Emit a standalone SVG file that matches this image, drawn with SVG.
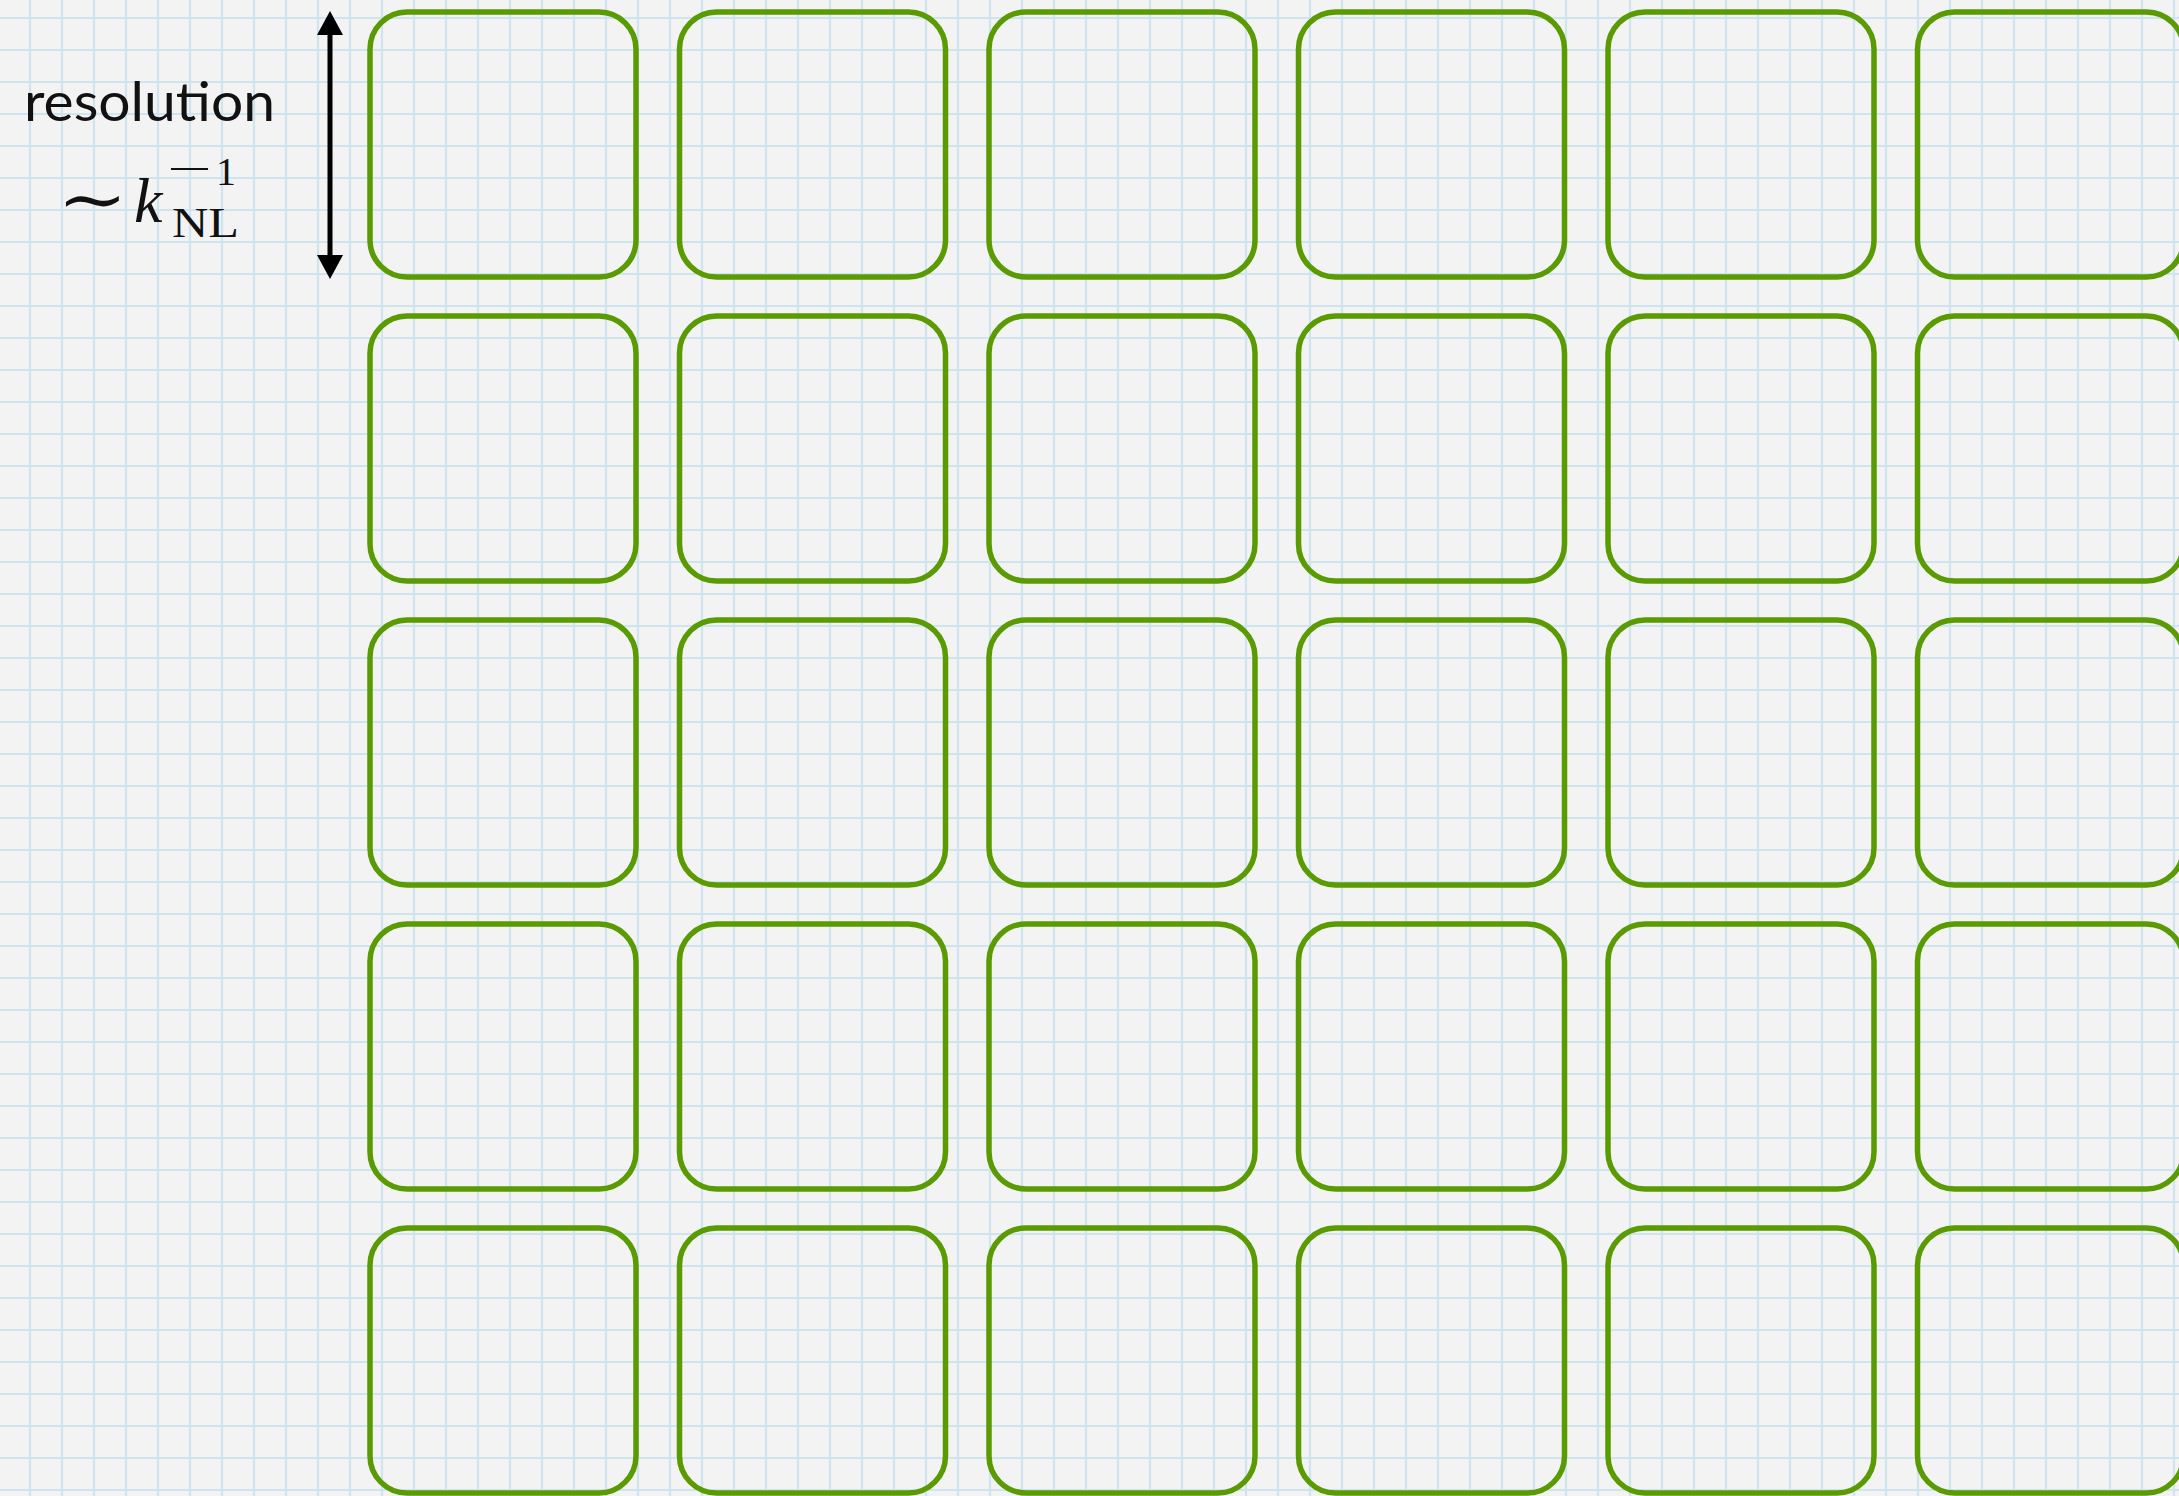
<svg xmlns="http://www.w3.org/2000/svg" width="2179" height="1496" viewBox="0 0 2179 1496">
<style>
.box{fill:none;stroke:#5a9a02;stroke-width:5.5}
.lbl{font-family:Lato,"Open Sans",sans-serif;font-size:55px;fill:#111}
.math{font-family:"Liberation Serif","DejaVu Serif",serif;fill:#111}
.dim{stroke:#000;stroke-width:5;fill:none}
</style>
<defs>
<pattern id="grid" patternUnits="userSpaceOnUse" x="14" y="2" width="32" height="32">
<rect width="32" height="32" fill="#f3f3f3"/>
<path d="M16 0V32M0 16H32" stroke="#cee4ee" stroke-width="2.2"/>
</pattern>
<marker id="ah" viewBox="0 0 24 26" refX="0" refY="13" markerWidth="24" markerHeight="26" markerUnits="userSpaceOnUse" orient="auto-start-reverse">
<path d="M0 0L24 13L0 26Z" fill="#000"/>
</marker>
</defs>
<rect width="2179" height="1496" fill="url(#grid)"/>
<g id="label-resolution">
<text class="lbl" x="24" y="121" textLength="251" lengthAdjust="spacingAndGlyphs">resolution</text>
</g>
<g id="label-knl">
<text transform="translate(57,222) scale(1.28,1)" x="0" y="0" font-family="'DejaVu Serif',serif" font-size="66" fill="#111">∼</text>
<text class="math" x="134" y="222" font-size="64" font-style="italic">k</text>
<text class="math" x="172" y="237" font-size="42" textLength="67" lengthAdjust="spacingAndGlyphs">NL</text>
<text class="math" transform="translate(167,183) scale(1.9,1)" x="0" y="0" font-size="42">−</text>
<text class="math" x="216" y="185" font-size="40">1</text>
</g>
<g id="connectors">
<path class="dim" d="M330 35V255" marker-start="url(#ah)" marker-end="url(#ah)"/>
</g>
<g id="cells">
<g id="r1c1"><rect class="box" x="370" y="12" width="266" height="265" rx="37"/></g>
<g id="r1c2"><rect class="box" x="679.5" y="12" width="266" height="265" rx="37"/></g>
<g id="r1c3"><rect class="box" x="989" y="12" width="266" height="265" rx="37"/></g>
<g id="r1c4"><rect class="box" x="1298.5" y="12" width="266" height="265" rx="37"/></g>
<g id="r1c5"><rect class="box" x="1608" y="12" width="266" height="265" rx="37"/></g>
<g id="r1c6"><rect class="box" x="1917.5" y="12" width="266" height="265" rx="37"/></g>
<g id="r2c1"><rect class="box" x="370" y="316" width="266" height="265" rx="37"/></g>
<g id="r2c2"><rect class="box" x="679.5" y="316" width="266" height="265" rx="37"/></g>
<g id="r2c3"><rect class="box" x="989" y="316" width="266" height="265" rx="37"/></g>
<g id="r2c4"><rect class="box" x="1298.5" y="316" width="266" height="265" rx="37"/></g>
<g id="r2c5"><rect class="box" x="1608" y="316" width="266" height="265" rx="37"/></g>
<g id="r2c6"><rect class="box" x="1917.5" y="316" width="266" height="265" rx="37"/></g>
<g id="r3c1"><rect class="box" x="370" y="620" width="266" height="265" rx="37"/></g>
<g id="r3c2"><rect class="box" x="679.5" y="620" width="266" height="265" rx="37"/></g>
<g id="r3c3"><rect class="box" x="989" y="620" width="266" height="265" rx="37"/></g>
<g id="r3c4"><rect class="box" x="1298.5" y="620" width="266" height="265" rx="37"/></g>
<g id="r3c5"><rect class="box" x="1608" y="620" width="266" height="265" rx="37"/></g>
<g id="r3c6"><rect class="box" x="1917.5" y="620" width="266" height="265" rx="37"/></g>
<g id="r4c1"><rect class="box" x="370" y="924" width="266" height="265" rx="37"/></g>
<g id="r4c2"><rect class="box" x="679.5" y="924" width="266" height="265" rx="37"/></g>
<g id="r4c3"><rect class="box" x="989" y="924" width="266" height="265" rx="37"/></g>
<g id="r4c4"><rect class="box" x="1298.5" y="924" width="266" height="265" rx="37"/></g>
<g id="r4c5"><rect class="box" x="1608" y="924" width="266" height="265" rx="37"/></g>
<g id="r4c6"><rect class="box" x="1917.5" y="924" width="266" height="265" rx="37"/></g>
<g id="r5c1"><rect class="box" x="370" y="1228" width="266" height="265" rx="37"/></g>
<g id="r5c2"><rect class="box" x="679.5" y="1228" width="266" height="265" rx="37"/></g>
<g id="r5c3"><rect class="box" x="989" y="1228" width="266" height="265" rx="37"/></g>
<g id="r5c4"><rect class="box" x="1298.5" y="1228" width="266" height="265" rx="37"/></g>
<g id="r5c5"><rect class="box" x="1608" y="1228" width="266" height="265" rx="37"/></g>
<g id="r5c6"><rect class="box" x="1917.5" y="1228" width="266" height="265" rx="37"/></g>
</g>
</svg>
